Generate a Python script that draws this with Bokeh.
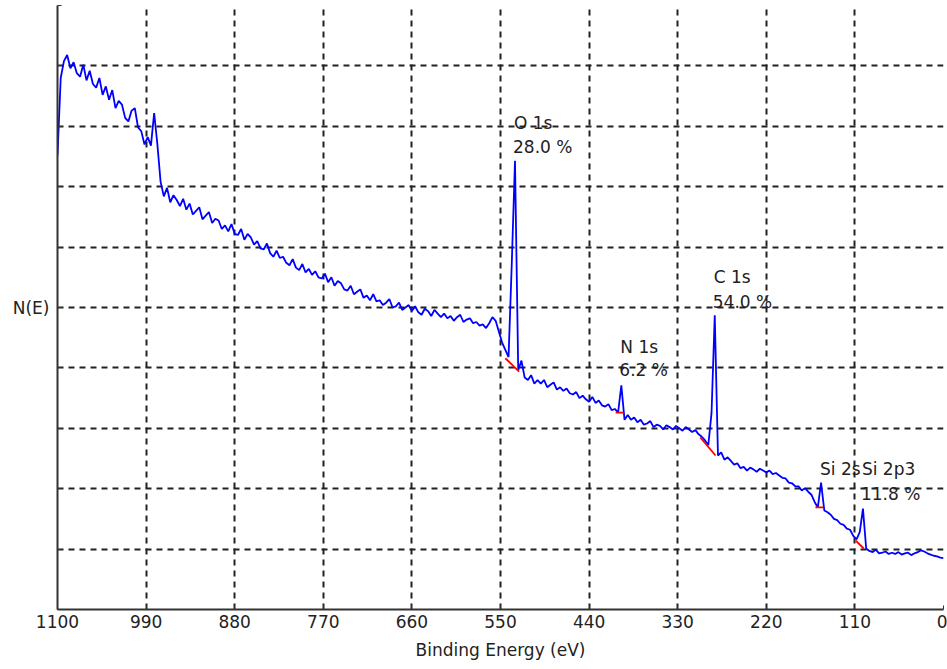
from bokeh.plotting import figure
from bokeh.models import Range1d, FixedTicker, ColumnDataSource
from bokeh.core.properties import value
from bokeh.embed import file_html
from bokeh.resources import INLINE

# ---------------- data ----------------
energy_ev = list(range(1100, -1, -4))   # binding energy grid (eV)
counts = [
    7.52, 8.80, 9.08, 9.18, 8.96, 9.06, 8.88, 8.82, 9.02, 8.76,
    8.92, 8.70, 8.64, 8.80, 8.52, 8.66, 8.44, 8.60, 8.30, 8.42,
    8.36, 8.14, 8.08, 8.26, 8.30, 7.98, 7.92, 7.70, 7.82, 7.68,
    8.22, 7.70, 7.08, 6.84, 6.98, 6.74, 6.86, 6.78, 6.68, 6.80,
    6.62, 6.72, 6.54, 6.60, 6.66, 6.46, 6.52, 6.58, 6.40, 6.47,
    6.44, 6.30, 6.36, 6.26, 6.38, 6.22, 6.20, 6.30, 6.12, 6.22,
    6.16, 6.04, 6.10, 5.98, 5.96, 6.06, 5.90, 5.84, 5.94, 5.82,
    5.84, 5.74, 5.70, 5.80, 5.66, 5.62, 5.72, 5.58, 5.64, 5.54,
    5.60, 5.50, 5.48, 5.56, 5.42, 5.50, 5.36, 5.44, 5.40, 5.30,
    5.28, 5.36, 5.22, 5.26, 5.30, 5.16, 5.20, 5.12, 5.22, 5.10,
    5.12, 5.04, 5.08, 5.14, 5.00, 5.02, 5.08, 4.96, 5.00, 5.04,
    4.94, 5.02, 4.92, 4.88, 4.98, 4.94, 4.86, 4.96, 4.90, 4.84,
    4.90, 4.82, 4.86, 4.78, 4.84, 4.88, 4.76, 4.80, 4.82, 4.74,
    4.76, 4.70, 4.72, 4.66, 4.74, 4.84, 4.78, 4.60, 4.42, 4.30,
    4.18, 5.73, 7.43, 3.96, 4.12, 3.84, 3.80, 3.88, 3.74, 3.80,
    3.74, 3.80, 3.68, 3.72, 3.76, 3.64, 3.68, 3.62, 3.66, 3.58,
    3.56, 3.60, 3.50, 3.54, 3.48, 3.44, 3.52, 3.42, 3.46, 3.38,
    3.36, 3.40, 3.30, 3.32, 3.26, 3.71, 3.14, 3.22, 3.14, 3.18,
    3.10, 3.14, 3.06, 3.08, 3.12, 3.02, 3.06, 3.04, 2.98, 3.05,
    3.02, 2.98, 3.04, 3.00, 2.96, 3.02, 2.98, 2.94, 2.97, 2.90,
    2.86, 2.80, 2.72, 3.25, 4.87, 2.55, 2.60, 2.48, 2.52, 2.46,
    2.40, 2.42, 2.34, 2.36, 2.30, 2.35, 2.32, 2.28, 2.33, 2.30,
    2.27, 2.30, 2.24, 2.26, 2.22, 2.18, 2.17, 2.10, 2.09, 2.04,
    2.04, 1.97, 2.01, 1.95, 1.90, 1.78, 1.69, 2.10, 1.64, 1.61,
    1.57, 1.50, 1.48, 1.42, 1.40, 1.34, 1.32, 1.22, 1.16, 1.28,
    1.67, 1.01, 0.97, 0.95, 0.99, 0.93, 0.94, 0.96, 0.92, 0.94,
    0.92, 0.95, 0.91, 0.93, 0.94, 0.90, 0.93, 0.95, 0.98, 0.96,
    0.93, 0.91, 0.89, 0.88, 0.86, 0.85,
]

# background lines under the peaks (red)
bg_x0 = [544, 407, 302, 159, 109]
bg_y0 = [4.16, 3.26, 2.85, 1.69, 1.14]
bg_x1 = [527, 397, 283, 149, 99]
bg_y1 = [3.94, 3.26, 2.55, 1.69, 1.01]

# peak annotations
peak_energy = [532, 400, 284, 152, 100]
peak_height = [7.43, 3.71, 4.87, 2.10, 1.67]
peak_name = ["O 1s", "N 1s", "C 1s", "Si 2s", "Si 2p3"]
peak_pct = ["28.0 %", "6.2 %", "54.0 %", "", "11.8 %"]

x_ticks = [1100, 990, 880, 770, 660, 550, 440, 330, 220, 110, 0]
y_ticks = list(range(0, 11))

# ---------------- figure ----------------
FONT = "DejaVu Sans"
FS = "17px"
p = figure(width=947, height=669, output_backend="svg", toolbar_location=None,
           x_range=Range1d(1100, 0), y_range=Range1d(0, 10),
           min_border_left=57, min_border_right=4, min_border_top=5,
           min_border_bottom=60)
p.outline_line_color = None
p.background_fill_color = "white"
p.border_fill_color = "white"

# grid
for g in (p.xgrid, p.ygrid):
    g.grid_line_color = "#222222"
    g.grid_line_dash = "6 5"
    g.grid_line_width = 2
p.xgrid.ticker = FixedTicker(ticks=x_ticks)
p.ygrid.ticker = FixedTicker(ticks=y_ticks)

# axes
xa = p.xaxis[0]
xa.ticker = FixedTicker(ticks=x_ticks)
xa.axis_label = "Binding Energy (eV)"
ya = p.yaxis[0]
ya.ticker = FixedTicker(ticks=y_ticks)
ya.axis_label = "N(E)"
ya.axis_label_orientation = "horizontal"
ya.major_label_overrides = {t: "" for t in y_ticks}
ya.major_label_standoff = 0
ya.axis_label_standoff = 8
xa.major_label_standoff = 5
xa.axis_label_standoff = 9
for a in (xa, ya):
    a.axis_line_color = "#333333"
    a.axis_line_width = 2
    a.major_tick_in = 4
    a.major_tick_out = 0
    a.major_tick_line_color = "#333333"
    a.minor_tick_line_color = None
    a.major_label_text_font = FONT
    a.major_label_text_font_size = FS
    a.major_label_text_color = "#222222"
    a.axis_label_text_font = FONT
    a.axis_label_text_font_size = FS
    a.axis_label_text_font_style = "normal"
    a.axis_label_text_color = "#222222"

# spectrum
p.line(energy_ev, counts, line_color="#0000ff", line_width=1.8)
p.segment(x0=bg_x0, y0=bg_y0, x1=bg_x1, y1=bg_y1, line_color="#ff0000", line_width=1.8)

# annotations
name_off = [-38, -38, -38, -14, -40]
pct_off = [-14, -15, -13, 0, -15]
src = ColumnDataSource(dict(x=peak_energy, y=peak_height, name=peak_name,
                            pct=peak_pct, noff=name_off, poff=pct_off))
p.text(x="x", y="y", text="name", y_offset="noff", x_offset=-1, source=src,
       text_font=value(FONT), text_font_size=FS, text_color="#222222",
       text_align="left", text_baseline="middle")
p.text(x="x", y="y", text="pct", y_offset="poff", x_offset=-2, source=src,
       text_font=value(FONT), text_font_size=FS, text_color="#222222",
       text_align="left", text_baseline="middle")

open("out.html", "w").write(file_html(p, INLINE))
